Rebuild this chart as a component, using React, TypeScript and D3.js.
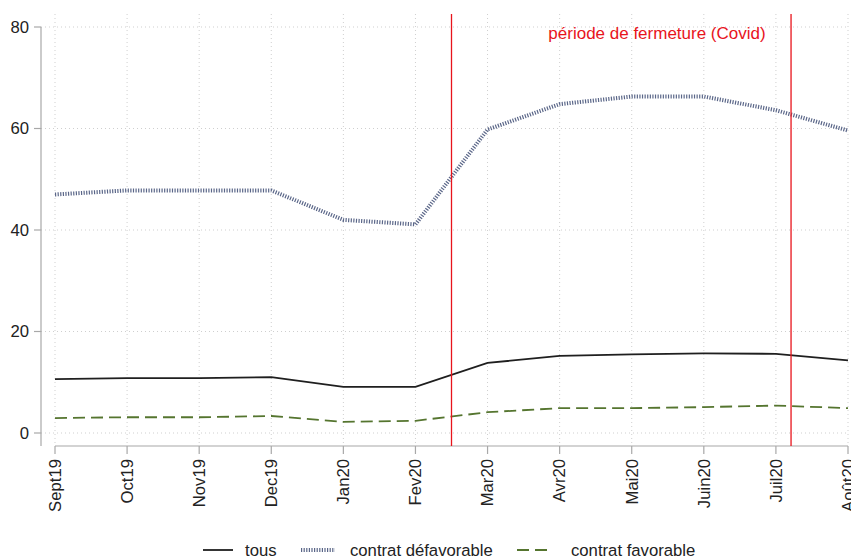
import React from "react";
import * as d3 from "d3";

const months = ["Sept19","Oct19","Nov19","Dec19","Jan20","Fev20","Mar20","Avr20","Mai20","Juin20","Juil20","Août20"];
const tous = [10.6,10.8,10.8,11.0,9.1,9.1,13.8,15.2,15.5,15.7,15.6,14.3];
const defavorable = [47.0,47.8,47.8,47.8,42.0,41.1,59.8,64.8,66.3,66.3,63.6,59.6];
const favorable = [2.95,3.1,3.1,3.35,2.2,2.4,4.1,4.9,4.9,5.1,5.4,4.9];
const yTicks = [0,20,40,60,80];
const closure = [5.5, 10.21];
const closureLabel = "période de fermeture (Covid)";

export default function App() {
  const W = 851, H = 557;
  const x = d3.scaleLinear().domain([0, 11]).range([55, 848]);
  const y = d3.scaleLinear().domain([0, 80]).range([433, 27]);
  const idx = months.map((_, i) => i);
  const line = (vals: number[]) =>
    d3.line<number>().x((_, i) => x(i)).y((d) => y(d))(vals) || "";
  const font = "'Liberation Sans', Arial, sans-serif";
  const axisY = 446;
  const axisX = 41;
  return (
    <svg width={W} height={H} style={{ position: "absolute", left: 0, top: 0, fontFamily: font }}>
      {idx.map((i) => (
        <line key={"gv" + i} x1={x(i)} x2={x(i)} y1={14} y2={axisY} stroke="#cfcfcf" strokeWidth={1} strokeDasharray="1 3" />
      ))}
      {yTicks.map((t) => (
        <line key={"gh" + t} x1={axisX} x2={848} y1={y(t)} y2={y(t)} stroke="#cfcfcf" strokeWidth={1} strokeDasharray="1 3" />
      ))}
      <line x1={axisX} x2={axisX} y1={y(80)} y2={axisY} stroke="#a8a8a8" strokeWidth={1.2} />
      <line x1={x(0)} x2={x(11)} y1={axisY} y2={axisY} stroke="#a8a8a8" strokeWidth={1.2} />
      {yTicks.map((t) => (
        <g key={"yt" + t}>
          <line x1={axisX - 7} x2={axisX} y1={y(t)} y2={y(t)} stroke="#a8a8a8" strokeWidth={1.2} />
          <text x={axisX - 12} y={y(t)} dy="0.35em" textAnchor="end" fontSize={16.7} fill="#222">{t}</text>
        </g>
      ))}
      {idx.map((i) => (
        <g key={"xt" + i}>
          <line x1={x(i)} x2={x(i)} y1={axisY} y2={axisY + 8} stroke="#a8a8a8" strokeWidth={1.2} />
          <text transform={`translate(${x(i)},${axisY + 13}) rotate(-90)`} dy="0.35em" textAnchor="end" fontSize={16.7} fill="#222">{months[i]}</text>
        </g>
      ))}
      <path d={line(favorable)} fill="none" stroke="#55752f" strokeWidth={1.8} strokeDasharray="12 6" />
      <path d={line(tous)} fill="none" stroke="#1f1f1f" strokeWidth={1.8} />
      <path d={line(defavorable)} fill="none" stroke="#5a6688" strokeWidth={4} strokeDasharray="1.2 1.4" />
      {closure.map((c, k) => (
        <line key={"c" + k} x1={x(c)} x2={x(c)} y1={14} y2={axisY} stroke="#e8141c" strokeWidth={1.3} />
      ))}
      <text x={657} y={33} dy="0.35em" textAnchor="middle" fontSize={17} fill="#e8141c">{closureLabel}</text>
      <g fontSize={16.7} fill="#222">
        <line x1={203} x2={233} y1={550} y2={550} stroke="#1f1f1f" strokeWidth={1.8} />
        <text x={245} y={550} dy="0.35em">tous</text>
        <line x1={301} x2={335} y1={550} y2={550} stroke="#5a6688" strokeWidth={4} strokeDasharray="1.2 1.4" />
        <text x={350} y={550} dy="0.35em">contrat défavorable</text>
        <line x1={517} x2={547} y1={550} y2={550} stroke="#55752f" strokeWidth={1.8} strokeDasharray="12 6" />
        <text x={571} y={550} dy="0.35em">contrat favorable</text>
      </g>
    </svg>
  );
}
